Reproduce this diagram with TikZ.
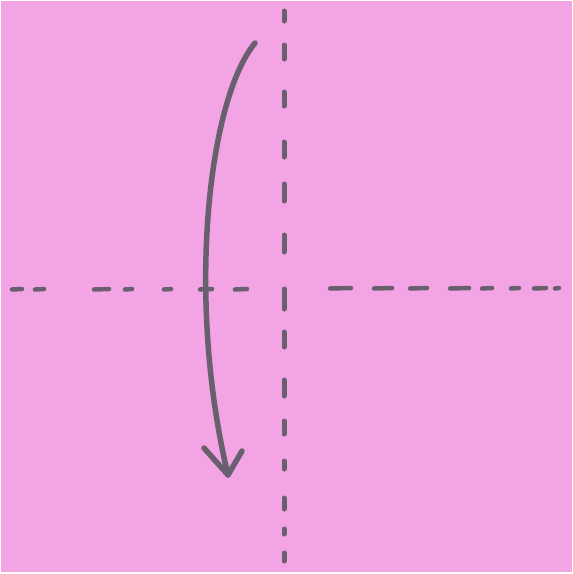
\documentclass[tikz,border=0pt]{standalone}
\usetikzlibrary{arrows.meta}
\definecolor{paper}{RGB}{242,164,228}
\definecolor{ink}{RGB}{105,95,110}
\begin{document}
\begin{tikzpicture}[x=1pt,y=-1pt,
  fold/.style={ink,line width=5pt,line cap=round},
  arrowline/.style={ink,line width=5.5pt,line cap=round,line join=round}]
\useasboundingbox (0,0) rectangle (573,574);
\fill[white] (0,0) rectangle (573,574);
\fill[paper] (1,1) rectangle (572,572);
% vertical fold line
\foreach \a/\b in {11/21,45/59,92/106,142/157,184/201,235/252,289/309,332/347,380/396,421/434,461/469,498/509,529/534,553/561}
  \draw[fold] (284,\a) -- (284,\b);
% horizontal fold line
\foreach \a/\b in {12/22,35/44,94/109,125/132,164/171,200/212,235/247}
  \draw[fold,line width=4.5pt] (\a,289.5) -- (\b,289);
\foreach \a/\b in {330/351,374/392,410/427,450/469,482/492,511/519,534/546,555/559}
  \draw[fold,line width=4.5pt] (\a,288.5) -- (\b,288);
% curved arrow
\coordinate (s) at (255,43);
\coordinate (t) at (228,475);
\coordinate (l) at (204,448);
\coordinate (r) at (242,451);
\draw[arrowline] (s) .. controls (208,100) and (186,300) .. (t);
\draw[arrowline] (l) -- (t) -- (r);
\end{tikzpicture}
\end{document}
